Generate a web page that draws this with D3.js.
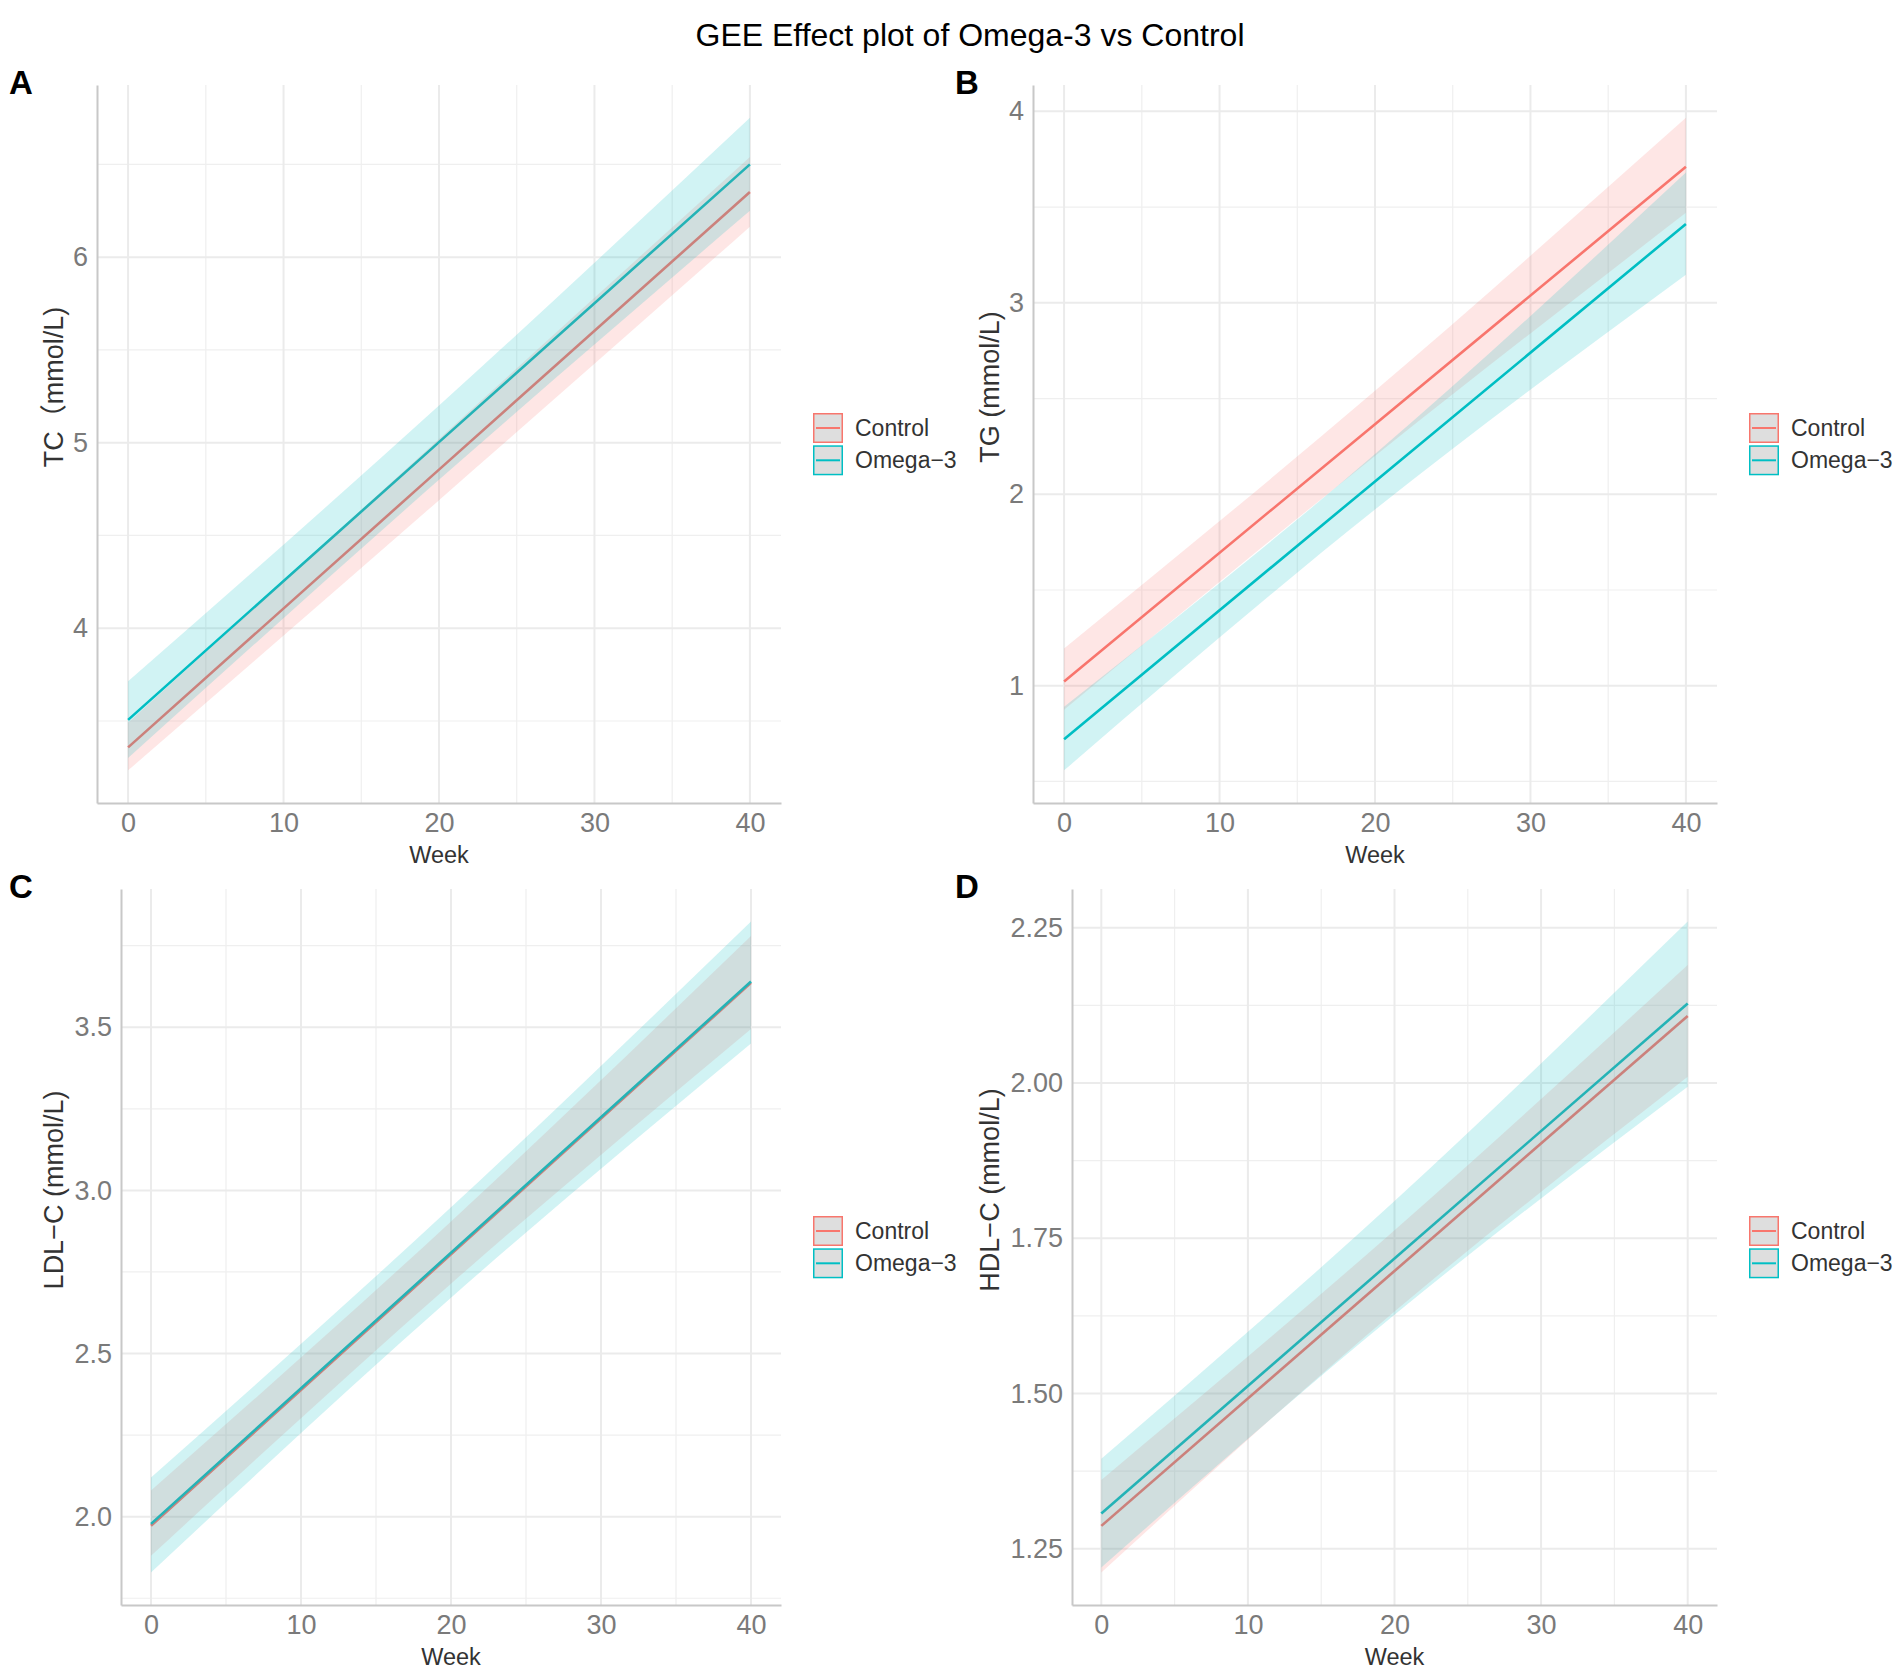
<!DOCTYPE html>
<html>
<head>
<meta charset="utf-8">
<script src="https://cdn.jsdelivr.net/npm/d3@7"></script>
<style>
  body { margin: 0; background: #fff; }
  svg { display: block; }
</style>
</head>
<body>
<script>
const weeks = [0, 20, 40];
const weekTicks = [0, 10, 20, 30, 40];
const weekMinor = [5, 15, 25, 35];
const groups = ["Control", "Omega\u22123"];

// A: TC
const tcControl = [3.358, 4.855, 6.351];
const tcControlLo = [3.234, 4.69, 6.164];
const tcControlHi = [3.49, 5.02, 6.54];
const tcOmega = [3.506, 5.003, 6.50];
const tcOmegaLo = [3.30, 4.80, 6.25];
const tcOmegaHi = [3.714, 5.20, 6.752];
const tcTicks = [4, 5, 6];

// B: TG
const tgControl = [1.022, 2.366, 3.71];
const tgControlLo = [0.875, 2.20, 3.47];
const tgControlHi = [1.195, 2.54, 3.967];
const tgOmega = [0.721, 2.067, 3.412];
const tgOmegaLo = [0.558, 1.92, 3.147];
const tgOmegaHi = [0.89, 2.21, 3.68];
const tgTicks = [1, 2, 3, 4];

// C: LDL-C
const ldlControl = [1.972, 2.804, 3.636];
const ldlControlLo = [1.88, 2.714, 3.495];
const ldlControlHi = [2.08, 2.905, 3.78];
const ldlOmega = [1.978, 2.809, 3.640];
const ldlOmegaLo = [1.829, 2.671, 3.45];
const ldlOmegaHi = [2.12, 2.948, 3.824];
const ldlTicks = [2.0, 2.5, 3.0, 3.5];

// D: HDL-C
const hdlControl = [1.287, 1.6975, 2.108];
const hdlControlLo = [1.212, 1.632, 2.01];
const hdlControlHi = [1.361, 1.763, 2.19];
const hdlOmega = [1.307, 1.7175, 2.128];
const hdlOmegaLo = [1.22, 1.627, 1.994];
const hdlOmegaHi = [1.395, 1.81, 2.26];
const hdlTicks = [1.25, 1.50, 1.75, 2.00, 2.25];

const colors = ["#F8766D", "#00BFC4"];
const font = '"Liberation Sans", Arial, "Noto Sans CJK SC", sans-serif';

const svg = d3.select("body").append("svg")
    .attr("width", 1902)
    .attr("height", 1672)
    .style("font-family", font);

svg.append("rect").attr("width", 1902).attr("height", 1672).attr("fill", "#fff");

svg.append("text")
    .attr("x", 970)
    .attr("y", 46)
    .attr("text-anchor", "middle")
    .attr("font-size", 32)
    .attr("fill", "#000")
    .text("GEE Effect plot of Omega-3 vs Control");

const panels = [
    {tag: "A", ylab: "TC\uFF08mmol/L)", box: [97, 85, 781, 803], titleX: 63, tagX: 9,
     fit: [tcControl, tcOmega], lo: [tcControlLo, tcOmegaLo], hi: [tcControlHi, tcOmegaHi],
     ticks: tcTicks, fmt: d3.format("d")},
    {tag: "B", ylab: "TG (mmol/L)", box: [1033, 85, 1717, 803], titleX: 999, tagX: 955,
     fit: [tgControl, tgOmega], lo: [tgControlLo, tgOmegaLo], hi: [tgControlHi, tgOmegaHi],
     ticks: tgTicks, fmt: d3.format("d")},
    {tag: "C", ylab: "LDL\u2212C (mmol/L)", box: [121, 889, 781, 1605], titleX: 63, tagX: 9,
     fit: [ldlControl, ldlOmega], lo: [ldlControlLo, ldlOmegaLo], hi: [ldlControlHi, ldlOmegaHi],
     ticks: ldlTicks, fmt: d3.format(".1f")},
    {tag: "D", ylab: "HDL\u2212C (mmol/L)", box: [1072, 889, 1717, 1605], titleX: 999, tagX: 955,
     fit: [hdlControl, hdlOmega], lo: [hdlControlLo, hdlOmegaLo], hi: [hdlControlHi, hdlOmegaHi],
     ticks: hdlTicks, fmt: d3.format(".2f")}
];

panels.forEach(drawPanel);

function drawPanel(p) {
    const [left, top, right, bottom] = p.box;
    const g = svg.append("g");

    const x = d3.scaleLinear().domain([-2, 42]).range([left, right]);

    // ggplot style 5% expansion around the ribbons
    const ext = d3.extent([].concat(...p.lo, ...p.hi));
    const pad = (ext[1] - ext[0]) * 0.05;
    const y = d3.scaleLinear().domain([ext[0] - pad, ext[1] + pad]).range([bottom, top]);

    const step = p.ticks[1] - p.ticks[0];
    const yMinor = d3.range(p.ticks[0] - step / 2, y.domain()[1], step)
        .filter(v => v > y.domain()[0]);

    // grid
    g.append("g").selectAll("line").data(weekMinor).join("line")
        .attr("x1", d => x(d)).attr("x2", d => x(d))
        .attr("y1", top).attr("y2", bottom)
        .attr("stroke", "#EFEFEF").attr("stroke-width", 1.2);
    g.append("g").selectAll("line").data(yMinor).join("line")
        .attr("x1", left).attr("x2", right)
        .attr("y1", d => y(d)).attr("y2", d => y(d))
        .attr("stroke", "#EFEFEF").attr("stroke-width", 1.2);
    g.append("g").selectAll("line").data(weekTicks).join("line")
        .attr("x1", d => x(d)).attr("x2", d => x(d))
        .attr("y1", top).attr("y2", bottom)
        .attr("stroke", "#EBEBEB").attr("stroke-width", 2);
    g.append("g").selectAll("line").data(p.ticks).join("line")
        .attr("x1", left).attr("x2", right)
        .attr("y1", d => y(d)).attr("y2", d => y(d))
        .attr("stroke", "#EBEBEB").attr("stroke-width", 2);

    const line = d3.line()
        .x((d, i) => x(weeks[i]))
        .y(d => y(d));

    // fitted lines first, ribbons drawn over them (as in the figure)
    p.fit.forEach((vals, k) => {
        g.append("path")
            .datum(vals)
            .attr("d", line)
            .attr("fill", "none")
            .attr("stroke", colors[k])
            .attr("stroke-width", 2.6);
    });

    p.lo.forEach((lows, k) => {
        const highs = p.hi[k];
        const area = d3.area()
            .x((d, i) => x(weeks[i]))
            .y0(d => y(d))
            .y1((d, i) => y(highs[i]))
            .curve(d3.curveNatural);
        g.append("path")
            .datum(lows)
            .attr("d", area)
            .attr("fill", colors[k])
            .attr("fill-opacity", 0.18);
    });

    // axes
    const xAxis = d3.axisBottom(x).tickValues(weekTicks).tickSize(0).tickPadding(10);
    const yAxis = d3.axisLeft(y).tickValues(p.ticks).tickFormat(p.fmt).tickSize(0).tickPadding(9);

    const xg = g.append("g").attr("transform", `translate(0,${bottom})`).call(xAxis);
    const yg = g.append("g").attr("transform", `translate(${left},0)`).call(yAxis);
    [xg, yg].forEach(a => {
        a.select(".domain").attr("stroke", "#C8C8C8").attr("stroke-width", 2);
        a.selectAll("text")
            .attr("font-size", 27)
            .attr("font-family", font)
            .attr("fill", "#7A7A7A");
    });

    g.append("text")
        .attr("x", (left + right) / 2)
        .attr("y", bottom + 60)
        .attr("text-anchor", "middle")
        .attr("font-size", 23.5)
        .attr("fill", "#333")
        .text("Week");

    g.append("text")
        .attr("transform", `translate(${p.titleX},${(top + bottom) / 2 - 57}) rotate(-90)`)
        .attr("text-anchor", "middle")
        .attr("font-size", 27)
        .attr("fill", "#333")
        .text(p.ylab);

    g.append("text")
        .attr("x", p.tagX)
        .attr("y", top + 9)
        .attr("font-size", 33)
        .attr("font-weight", "bold")
        .attr("fill", "#000")
        .text(p.tag);

    // legend
    const keyX = right + 32;
    const keyTop = (top + bottom) / 2 - 31;
    const legend = g.append("g").selectAll("g")
        .data(groups)
        .join("g")
        .attr("transform", (d, i) => `translate(${keyX},${keyTop + i * 32.3})`);

    legend.append("rect")
        .attr("x", 0.75).attr("y", 0.75)
        .attr("width", 28.5).attr("height", 28.5)
        .attr("fill", "#DEDEDE")
        .attr("stroke", (d, i) => colors[i])
        .attr("stroke-width", 1.5);
    legend.append("line")
        .attr("x1", 3).attr("x2", 27)
        .attr("y1", 15).attr("y2", 15)
        .attr("stroke", (d, i) => colors[i])
        .attr("stroke-width", 2);
    legend.append("text")
        .attr("x", 42)
        .attr("y", 15)
        .attr("dy", "0.35em")
        .attr("font-size", 23)
        .attr("fill", "#333")
        .text(d => d);
}
</script>
</body>
</html>
